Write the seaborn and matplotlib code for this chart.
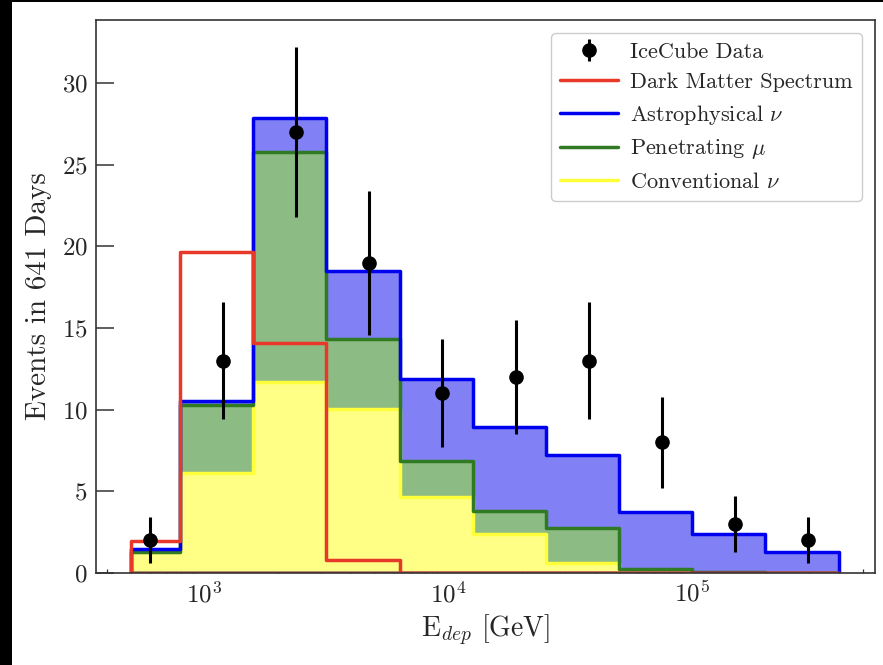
import numpy as np
import matplotlib
matplotlib.use("Agg")
import matplotlib.pyplot as plt
from matplotlib.lines import Line2D
from matplotlib.patches import Rectangle
import seaborn as sns

# ---- data ----
bin_edges = [500, 794, 1585, 3162, 6310, 12589, 25119, 50119, 100000, 199526, 398107]
conventional = [1.3, 6.15, 11.7, 10.05, 4.65, 2.4, 0.63, 0.1, 0.0, 0.0]
penetrating = [0.0, 4.15, 14.06, 4.3, 2.21, 1.4, 2.1, 0.14, 0.05, 0.0]
astrophysical = [0.2, 0.25, 2.08, 4.15, 5.04, 5.16, 4.5, 3.52, 2.34, 1.31]
dark_matter = [1.96, 19.64, 14.08, 0.8, 0.0, 0.0, 0.0, 0.0, 0.0, 0.0]

data_x = [596, 1189, 2374, 4736, 9450, 18854, 37620, 75059, 149763, 298816]
data_y = [2, 13, 27, 19, 11, 12, 13, 8, 3, 2]
data_err = [1.4, 3.6, 5.2, 4.4, 3.3, 3.5, 3.6, 2.8, 1.7, 1.4]

labels = ["IceCube Data", "Dark Matter Spectrum", r"Astrophysical $\nu$",
          r"Penetrating $\mu$", r"Conventional $\nu$"]

# ---- style ----
sns.set_style("ticks")
plt.rcParams["font.family"] = "serif"
plt.rcParams["font.serif"] = ["cmr10"]
plt.rcParams["mathtext.fontset"] = "cm"
plt.rcParams["axes.formatter.use_mathtext"] = True
plt.rcParams["axes.unicode_minus"] = False

fig = plt.figure(figsize=(8.83, 6.65), dpi=100)
ax = fig.add_axes([96 / 883, 1 - 573 / 665, (875 - 96) / 883, (573 - 20) / 665])

edges = np.array(bin_edges, dtype=float)
centers = np.sqrt(edges[:-1] * edges[1:])
log_bins = [float(v) for v in np.log10(edges)]

conv = np.array(conventional)
pen_top = conv + np.array(penetrating)
astro_top = pen_top + np.array(astrophysical)

c_fill = {"astro": "#8181f5", "pen": "#8dbb84", "conv": "#ffff85"}
c_line = {"astro": "#0000f0", "pen": "#2f7a22", "conv": "#ffff3a", "dm": "#e8382a"}

# fills
for vals, key, z in [(astro_top, "astro", 1.0), (pen_top, "pen", 1.1), (conv, "conv", 1.2)]:
    sns.histplot(x=centers, weights=vals, bins=log_bins, log_scale=True, element="step",
                 fill=True, color=c_fill[key], facecolor=c_fill[key], edgecolor="none",
                 linewidth=0, zorder=z, ax=ax)

# outlines
for vals, key, z in [(conv, "conv", 2.1), (pen_top, "pen", 2.2), (astro_top, "astro", 2.3),
                     (np.array(dark_matter), "dm", 2.4)]:
    sns.histplot(x=centers, weights=vals, bins=log_bins, log_scale=True, element="step",
                 fill=True, color=c_line[key], facecolor="none", edgecolor=c_line[key],
                 linewidth=2.5, zorder=z, ax=ax)

# data
eb = ax.errorbar(data_x, data_y, yerr=data_err, fmt="o", color="black", markersize=9.5,
                 elinewidth=2.2, capsize=0, zorder=5)

ax.set_xscale("log")
ax.set_xlim(359.6, 561000)
ax.set_ylim(0, 33.86)
ax.set_yticks([0, 5, 10, 15, 20, 25, 30])
ax.set_xlabel(r"E$_{dep}$ [GeV]", fontsize=20, labelpad=4)
ax.set_ylabel("Events in 641 Days", fontsize=21, labelpad=7)

ax.tick_params(axis="both", which="major", direction="in", length=13, width=1.1,
               labelsize=18, pad=6, color="#333333")
ax.tick_params(axis="x", which="minor", direction="in", length=3, width=0.9, color="#333333")
ax.tick_params(axis="y", which="minor", left=False)
for s in ax.spines.values():
    s.set_linewidth(1.2)
    s.set_color("#333333")

handles = [eb,
           Line2D([], [], color=c_line["dm"], lw=2.5),
           Line2D([], [], color=c_line["astro"], lw=2.5),
           Line2D([], [], color=c_line["pen"], lw=2.5),
           Line2D([], [], color=c_line["conv"], lw=2.5)]
leg = ax.legend(handles, labels, loc="upper right", fontsize=16, frameon=True,
                fancybox=True, framealpha=1, edgecolor="#cccccc", handlelength=2.6,
                handletextpad=0.55, labelspacing=0.48, borderaxespad=0.6)
leg.get_frame().set_linewidth(1.0)

# black border strips of the screenshot
fig.add_artist(Rectangle((0, 0), 12 / 883, 1, transform=fig.transFigure,
                         facecolor="black", edgecolor="none", zorder=10))
fig.add_artist(Rectangle((0, 1 - 2 / 665), 1, 2 / 665, transform=fig.transFigure,
                         facecolor="black", edgecolor="none", zorder=10))

fig.savefig("out.png", dpi=100)
